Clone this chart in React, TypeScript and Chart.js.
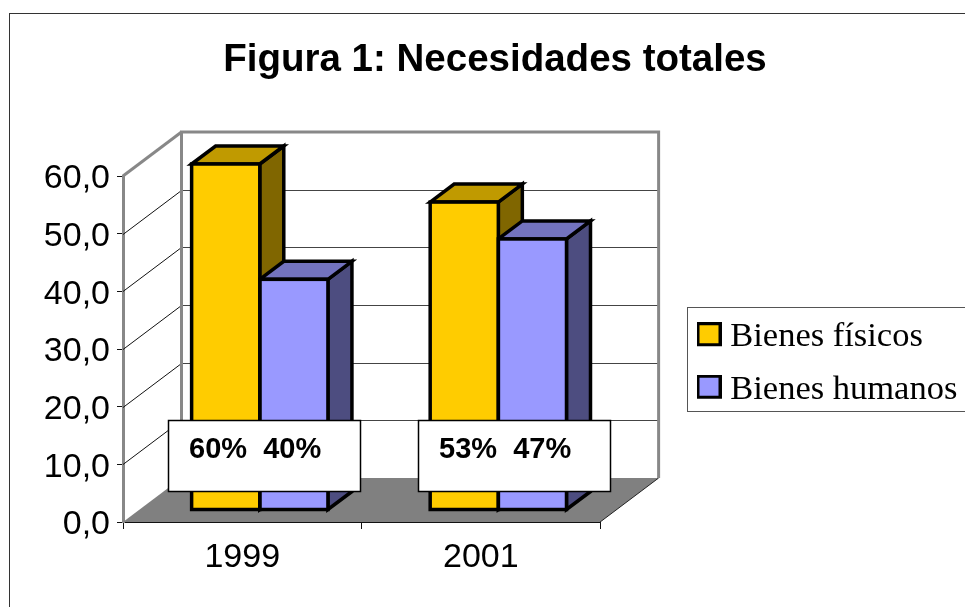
import React, { useEffect, useRef } from "react";
import { Chart, registerables } from "chart.js";

Chart.register(...registerables);

const categories = ["1999", "2001"];
const seriesNames = ["Bienes físicos", "Bienes humanos"];
const bienesFisicos = [60, 53.4];
const bienesHumanos = [40, 47];
const shareLabels = ["60%  40%", "53%  47%"];
const chartTitle = "Figura 1: Necesidades totales";

const FRONT = ["#FFCC00", "#9999FF"];
const TOP = ["#C09A00", "#7373BF"];
const SIDE = ["#806600", "#4D4D80"];

const WALL_DX = 58.5;
const WALL_DY = -44;
const BAR_DX = 17.5;
const BAR_DY = -12;
const BAR_DEPTH_X = 24;
const BAR_DEPTH_Y = -18;
const NOTE_OFFSET = [-74, -63];

function swatch(fill: string) {
  const c = document.createElement("canvas");
  c.width = 25;
  c.height = 30;
  const g = c.getContext("2d")!;
  g.fillStyle = "#000";
  g.fillRect(0, 0, 25, 24);
  g.fillStyle = fill;
  g.fillRect(3, 3, 19, 18);
  return c;
}

function poly(ctx: CanvasRenderingContext2D, pts: number[][]) {
  ctx.beginPath();
  pts.forEach((p, i) => (i ? ctx.lineTo(p[0], p[1]) : ctx.moveTo(p[0], p[1])));
  ctx.closePath();
}

function line(ctx: CanvasRenderingContext2D, x1: number, y1: number, x2: number, y2: number) {
  ctx.beginPath();
  ctx.moveTo(x1, y1);
  ctx.lineTo(x2, y2);
  ctx.stroke();
}

const scene3d = {
  id: "scene3d",
  beforeDraw(chart: any) {
    const { ctx } = chart;
    ctx.save();
    ctx.strokeStyle = "#333";
    ctx.lineWidth = 1;
    ctx.strokeRect(9.5, 13.5, 1100, 800);
    ctx.strokeStyle = "#555";
    ctx.strokeRect(687.5, 307.5, 400, 104);
    ctx.restore();
  },
  afterLayout(chart: any) {
    chart.titleBlock.left = 95;
    chart.titleBlock.right = 895;
    chart.legend.left = 687;
    chart.legend.right = 965;
    chart.legend.top = 302;
    chart.legend.bottom = 607;
  },
  beforeDatasetsDraw(chart: any) {
    const { ctx, chartArea: a, scales } = chart;
    const y = scales.y;
    const l = a.left, r = a.right, b = a.bottom, t = a.top;
    ctx.save();
    ctx.fillStyle = "#808080";
    poly(ctx, [[l, b], [l + WALL_DX, b + WALL_DY], [r + WALL_DX, b + WALL_DY], [r, b]]);
    ctx.fill();
    ctx.strokeStyle = "#222";
    ctx.lineWidth = 1;
    line(ctx, r, b, r + WALL_DX, b + WALL_DY);
    y.ticks.forEach((tk: any) => {
      if (tk.value <= 0 || tk.value >= 60) return;
      const py = Math.round(y.getPixelForValue(tk.value)) + 0.5;
      ctx.strokeStyle = "#111";
      line(ctx, l, py, l + WALL_DX, py + WALL_DY);
      ctx.strokeStyle = "#444";
      line(ctx, l + WALL_DX, py + WALL_DY, r + WALL_DX, py + WALL_DY);
    });
    ctx.strokeStyle = "#888";
    ctx.lineWidth = 3;
    line(ctx, l, t, l + WALL_DX, t + WALL_DY);
    ctx.beginPath();
    ctx.moveTo(l + WALL_DX, b + WALL_DY);
    ctx.lineTo(l + WALL_DX, t + WALL_DY);
    ctx.lineTo(r + WALL_DX, t + WALL_DY);
    ctx.lineTo(r + WALL_DX, b + WALL_DY);
    ctx.stroke();
    ctx.restore();

    ctx.save();
    ctx.translate(BAR_DX, BAR_DY);
    ctx.strokeStyle = "#000";
    ctx.lineWidth = 3.5;
    ctx.lineJoin = "miter";
    chart.data.datasets.forEach((_: any, di: number) => {
      chart.getDatasetMeta(di).data.forEach((bar: any) => {
        const x0 = bar.x - bar.width / 2, x1 = bar.x + bar.width / 2;
        const top = bar.y, base = bar.base;
        ctx.fillStyle = SIDE[di];
        poly(ctx, [[x1, top], [x1 + BAR_DEPTH_X, top + BAR_DEPTH_Y], [x1 + BAR_DEPTH_X, base + BAR_DEPTH_Y], [x1, base]]);
        ctx.fill();
        ctx.stroke();
        ctx.fillStyle = TOP[di];
        poly(ctx, [[x0, top], [x0 + BAR_DEPTH_X, top + BAR_DEPTH_Y], [x1 + BAR_DEPTH_X, top + BAR_DEPTH_Y], [x1, top]]);
        ctx.fill();
        ctx.stroke();
      });
    });
  },
  afterDatasetsDraw(chart: any) {
    const { ctx } = chart;
    chart.data.datasets.forEach((_: any, di: number) => {
      chart.getDatasetMeta(di).data.forEach((bar: any) => {
        ctx.strokeRect(bar.x - bar.width / 2, bar.y, bar.width, bar.base - bar.y);
      });
    });
    ctx.restore();
  },
  afterDraw(chart: any) {
    const { ctx, chartArea: a, scales } = chart;
    ctx.save();
    shareLabels.forEach((txt, i) => {
      const left = Math.round(scales.x.getPixelForValue(i) + NOTE_OFFSET[i]) + 0.5;
      const top = a.bottom - 101.5;
      ctx.fillStyle = "#fff";
      ctx.fillRect(left, top, 192, 71);
      ctx.strokeStyle = "#000";
      ctx.lineWidth = 1.5;
      ctx.strokeRect(left, top, 192, 71);
      ctx.fillStyle = "#000";
      ctx.font = "bold 29px 'Liberation Sans'";
      ctx.textBaseline = "alphabetic";
      ctx.textAlign = "left";
      ctx.fillText(txt, left + 20.5, a.bottom - 64);
    });
    ctx.restore();
  },
};

export default function App() {
  const ref = useRef<HTMLCanvasElement>(null);
  useEffect(() => {
    document.body.style.margin = "0";
    const icons = FRONT.map(swatch);
    const chart = new Chart(ref.current!, {
      type: "bar",
      data: {
        labels: categories,
        datasets: [
          { label: seriesNames[0], data: bienesFisicos, backgroundColor: FRONT[0], borderWidth: 0, clip: false },
          { label: seriesNames[1], data: bienesHumanos, backgroundColor: FRONT[1], borderWidth: 0, clip: false },
        ] as any,
      },
      plugins: [scene3d],
      options: {
        responsive: false,
        animation: false,
        layout: { padding: { left: 23, right: 79, top: 0, bottom: 25 } },
        datasets: { bar: { barPercentage: 1, categoryPercentage: 136 / 238 } },
        scales: {
          x: {
            z: 1,
            grid: { offset: true, drawOnChartArea: false, drawTicks: true, tickLength: 7, color: "#111" },
            border: { color: "#111", width: 2 },
            ticks: { color: "#000", padding: 8, font: { family: "'Liberation Sans'", size: 34 }, maxRotation: 0 },
            afterFit(s: any) { s.height = 60; },
          },
          y: {
            z: 1,
            min: 0,
            max: 60,
            grid: { drawOnChartArea: false, drawTicks: true, tickLength: 6, color: "#111" },
            border: { color: "#888", width: 3 },
            ticks: {
              stepSize: 10,
              color: "#000",
              padding: 7,
              labelOffset: 3,
              font: { family: "'Liberation Sans'", size: 34 },
              callback: (v: any) => Number(v).toFixed(1).replace(".", ","),
            },
            afterFit(s: any) { s.width = 100; },
          },
        },
        plugins: {
          tooltip: { enabled: false },
          title: {
            display: true,
            text: chartTitle,
            color: "#000",
            font: { family: "'Liberation Sans'", size: 38.5, weight: "bold" },
            padding: { top: 37, bottom: 92.8 },
          },
          legend: {
            display: true,
            position: "right",
            align: "start",
            labels: {
              usePointStyle: true,
              pointStyleWidth: 8,
              boxHeight: 24,
              padding: 18,
              color: "#000",
              font: { family: "'Liberation Serif'", size: 34.5 },
              generateLabels: () =>
                seriesNames.map((n, i) => ({
                  text: n,
                  fillStyle: FRONT[i],
                  strokeStyle: "#000",
                  lineWidth: 0,
                  pointStyle: icons[i],
                  datasetIndex: i,
                  hidden: false,
                })),
            },
          },
        },
      } as any,
    });
    for (let i = 0; i < 3; i++) {
      (chart.options.layout as any).padding.right += chart.chartArea.right - 599;
      chart.update();
    }
    return () => chart.destroy();
  }, []);
  return <canvas ref={ref} width={965} height={607} style={{ display: "block" }} />;
}
